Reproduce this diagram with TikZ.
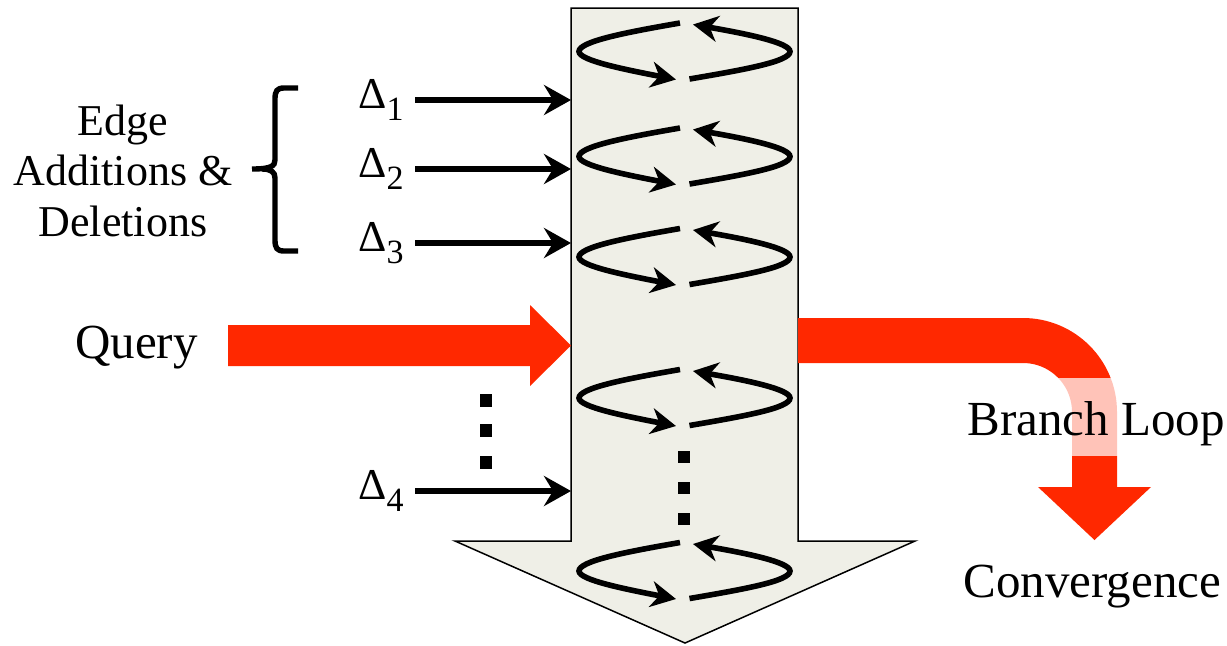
\documentclass[tikz,border=0pt]{standalone}
\usepackage{fontspec}
\setmainfont{Liberation Serif}
\usetikzlibrary{arrows.meta}
\definecolor{flowred}{RGB}{255,40,0}
\definecolor{pipefill}{RGB}{239,239,231}
\tikzset{
  bigfont/.style={font=\fontsize{24.5}{29}\selectfont},
  editfont/.style={font=\fontsize{22}{25.25}\selectfont},
  deltaarrow/.style={line width=3pt,-{Stealth[length=13.5pt,width=15pt,inset=4.5pt]}},
  looppart/.style={line width=2.8pt,-{Stealth[length=12.5pt,width=13pt,inset=4pt]}},
  dotmark/.style={fill=black},
  cycleloop/.pic={
    \draw[looppart] (-5,-28.5) .. controls (-60,-19) and (-106,-10) .. (-106,0)
                    .. controls (-106,9) and (-60,18) .. (-9,28);
    \draw[looppart] (4.5,27.5) .. controls (60,18) and (105,10) .. (105,0)
                    .. controls (105,-9) and (60,-18) .. (8,-27);
  }
}
\newcommand{\deltalabel}[1]{{\fontsize{22}{22}\selectfont Δ}\raisebox{-6pt}{\fontsize{17}{17}\selectfont #1}}
\begin{document}
\begin{tikzpicture}[x=0.5pt,y=-0.5pt]
\useasboundingbox (0,0) rectangle (1227,645);

% main downward pipeline arrow
\draw[fill=pipefill,line width=0.75pt,line join=miter]
  (571,8) -- (798,8) -- (798,541) -- (915,541) -- (685,643) -- (455,541) -- (571,541) -- cycle;

% repeated update loops inside the pipeline
\pic at (685,51.5) {cycleloop};
\pic at (685,156.5) {cycleloop};
\pic at (685,257) {cycleloop};
\pic at (685,398) {cycleloop};
\pic at (685,571) {cycleloop};

% vertical ellipsis inside the pipeline
\fill[dotmark] (678,451) rectangle (690,463);
\fill[dotmark] (678,482) rectangle (690,494);
\fill[dotmark] (678,513) rectangle (690,525);

% vertical ellipsis between the update arrows
\fill[dotmark] (480,394) rectangle (492,407);
\fill[dotmark] (480,424) rectangle (492,437);
\fill[dotmark] (480,456) rectangle (492,469);

% update labels and arrows
\node[anchor=base west,inner sep=0] (d1) at (358,108.5) {\deltalabel{1}};
\node[anchor=base west,inner sep=0] (d2) at (358,177.5) {\deltalabel{2}};
\node[anchor=base west,inner sep=0] (d3) at (358,251.5) {\deltalabel{3}};
\node[anchor=base west,inner sep=0] (d4) at (358,499.5) {\deltalabel{4}};
\coordinate (a1s) at (415,100);  \coordinate (a1e) at (571,100);
\coordinate (a2s) at (415,169);  \coordinate (a2e) at (571,169);
\coordinate (a3s) at (415,243);  \coordinate (a3e) at (571,243);
\coordinate (a4s) at (415,491);  \coordinate (a4e) at (571,491);
\draw[deltaarrow] (a1s) -- (a1e);
\draw[deltaarrow] (a2s) -- (a2e);
\draw[deltaarrow] (a3s) -- (a3e);
\draw[deltaarrow] (a4s) -- (a4e);

% brace grouping the first three updates
\draw[line width=2.7pt,line cap=butt]
  (298,88) -- (284,88) .. controls (277,88) and (275,91) .. (275,99) -- (275,160)
  .. controls (275,166) and (271,169) .. (252,169);
\draw[line width=2.7pt,line cap=butt]
  (298,251) -- (284,251) .. controls (277,251) and (275,248) .. (275,240) -- (275,178)
  .. controls (275,172) and (271,169) .. (262,169);
\node[editfont,align=center,anchor=base,inner sep=0] (edits) at (123,236)
  {Edge\\Additions \&\\Deletions};

% query input arrow
\fill[flowred] (228,325) -- (530,325) -- (530,305) -- (571,345.5) -- (530,386)
  -- (530,366) -- (228,366) -- cycle;
\node[bigfont,anchor=base east,inner sep=0] (query) at (198,358) {Query};

% branch loop output arrow
\draw[flowred,line width=22.5pt] (798,340.5) -- (1023,340.5)
  arc[start angle=-90,end angle=0,radius=71.5] -- (1094.5,488);
\node[bigfont,anchor=base west,inner xsep=0,inner ysep=0,text height=28.5pt,text depth=10.5pt,
  fill=white,fill opacity=0.72,text opacity=1] (branch) at (967,435) {Branch Loop};
\fill[flowred] (1038,487) -- (1151,487) -- (1094.5,540) -- cycle;
\node[bigfont,anchor=base west,inner sep=0] (conv) at (963,597) {Convergence};
\end{tikzpicture}
\end{document}
